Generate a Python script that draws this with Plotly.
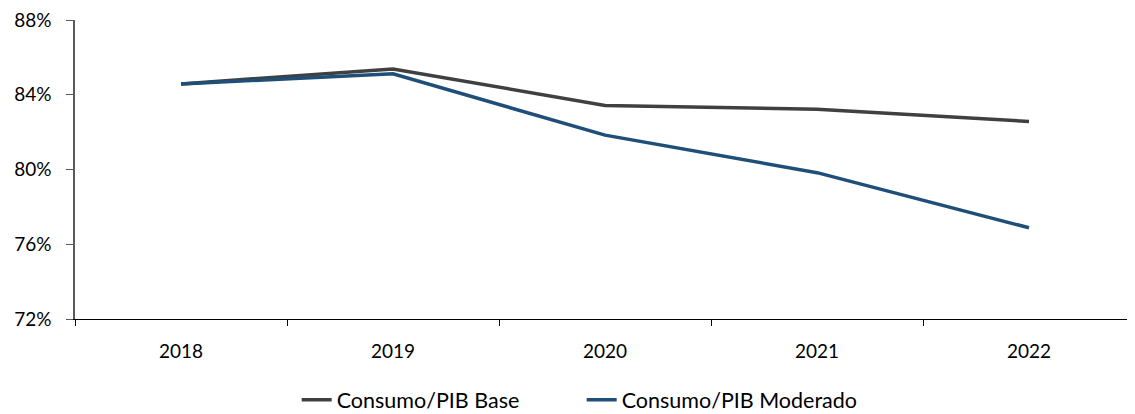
import plotly.graph_objects as go

years = ["2018", "2019", "2020", "2021", "2022"]
base = [84.58, 85.38, 83.43, 83.22, 82.57]
moderado = [84.58, 85.12, 81.84, 79.83, 76.88]

fig = go.Figure()

fig.add_trace(go.Scatter(
    x=years, y=base, mode="lines", name="Consumo/PIB Base",
    line=dict(color="#404040", width=3.5)
))
fig.add_trace(go.Scatter(
    x=years, y=moderado, mode="lines", name="Consumo/PIB Moderado",
    line=dict(color="#1F4E79", width=3.5)
))

# page body has an 8px margin, so the figure is a bit smaller than the window
fig.update_layout(
    width=1127, height=406,
    margin=dict(l=67, r=0, t=12, b=95, autoexpand=False),
    plot_bgcolor="white", paper_bgcolor="white",
    font=dict(family="Lato, Carlito, sans-serif", size=19, color="#000000"),
    showlegend=True,
    legend=dict(orientation="h", x=0.478, xanchor="center", y=-0.27, yanchor="middle",
                font=dict(size=21.5), traceorder="normal", entrywidth=240),
)

fig.update_xaxes(
    type="category", range=[-0.5, 4.5],
    showgrid=False, showline=True, linecolor="#000000", linewidth=1,
    ticks="outside", tickson="boundaries", ticklen=6, tickcolor="#000000",
    ticklabelstandoff=15,
)
fig.update_yaxes(
    range=[72, 88], tickvals=[72, 76, 80, 84, 88],
    ticktext=["72%", "76%", "80%", "84%", "88%"],
    showgrid=False, zeroline=False, showline=True, linecolor="#595959", linewidth=1.5,
    ticks="outside", ticklen=7, tickcolor="#595959",
    ticklabelstandoff=11, ticklabeloverflow="allow",
)

fig.write_html("out.html")
